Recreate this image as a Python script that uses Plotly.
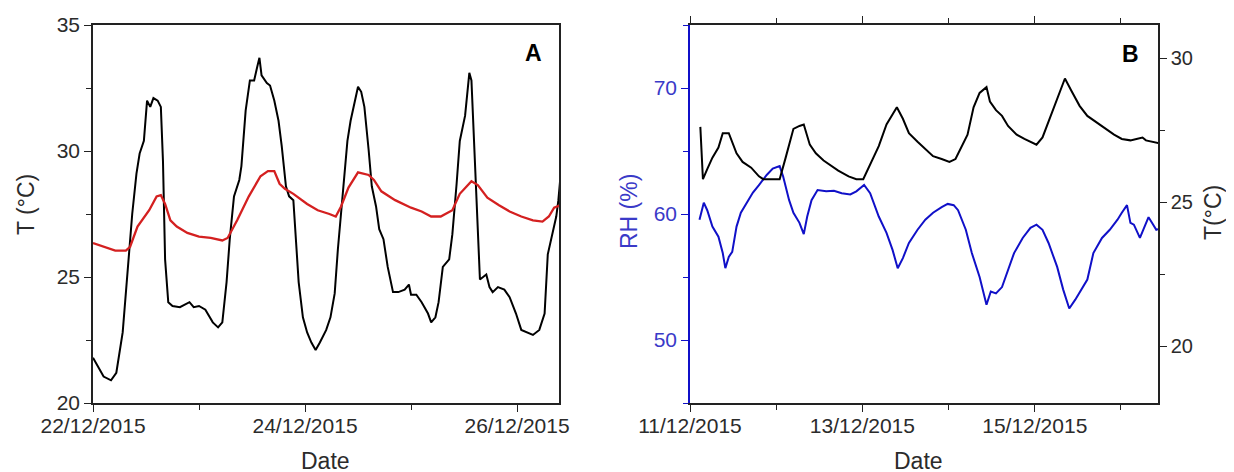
import pandas as pd
import plotly.graph_objects as go

# ---------------- data (days since start date) ----------------
a_start = "2015-12-22"
a_black_days = [0, 0.1, 0.17, 0.22, 0.28, 0.31, 0.37, 0.41, 0.44, 0.48, 0.51, 0.54, 0.57, 0.61, 0.64, 0.66,
                0.68, 0.71, 0.75, 0.82, 0.91, 0.95, 1.0, 1.06, 1.13, 1.18, 1.22, 1.26, 1.29, 1.33, 1.38, 1.40,
                1.44, 1.48, 1.52, 1.55, 1.57, 1.59, 1.64, 1.67, 1.71, 1.75, 1.78, 1.82, 1.85, 1.89, 1.91, 1.94,
                1.98, 2.02, 2.06, 2.10, 2.14, 2.20, 2.24, 2.28, 2.31, 2.36, 2.40, 2.43, 2.47, 2.50, 2.53, 2.56,
                2.60, 2.63, 2.67, 2.70, 2.74, 2.78, 2.83, 2.88, 2.94, 2.98, 3.00, 3.05, 3.10, 3.16, 3.19, 3.23,
                3.26, 3.30, 3.36, 3.39, 3.43, 3.46, 3.51, 3.53, 3.55, 3.57, 3.60, 3.63, 3.65, 3.68, 3.71, 3.74,
                3.77, 3.82, 3.88, 3.93, 3.99, 4.04, 4.10, 4.15, 4.21, 4.26, 4.29, 4.33, 4.37, 4.39, 4.41]
a_black_temp = [21.8, 21.05, 20.9, 21.2, 22.8, 24.4, 27.5, 29.1, 29.9, 30.4, 32.0, 31.75, 32.1, 32.0, 31.75, 29.6,
                25.7, 24.0, 23.85, 23.8, 24.0, 23.8, 23.85, 23.7, 23.2, 23.0, 23.2, 24.8, 26.5, 28.2, 28.85, 29.4,
                31.6, 32.8, 32.8, 33.35, 33.7, 33.0, 32.7, 32.6, 32.0, 31.2, 30.2, 28.6, 28.2, 28.05, 26.7, 24.8,
                23.4, 22.8, 22.4, 22.1, 22.4, 22.9, 23.4, 24.35, 26.1, 28.6, 30.4, 31.2, 32.0, 32.55, 32.35, 31.75,
                30.05, 28.6, 27.8, 26.9, 26.5, 25.4, 24.4, 24.4, 24.5, 24.7, 24.3, 24.3, 24.0, 23.55, 23.2, 23.4,
                24.0, 25.4, 25.7, 26.7, 28.7, 30.4, 31.4, 32.3, 33.1, 32.8, 29.6, 26.7, 24.9, 25.0, 25.1, 24.6,
                24.4, 24.6, 24.5, 24.2, 23.55, 22.9, 22.8, 22.7, 22.9, 23.55, 25.9, 26.7, 27.4, 28.05, 29.0]
a_red_days = [0, 0.1, 0.21, 0.31, 0.35, 0.42, 0.53, 0.60, 0.64, 0.68, 0.73, 0.79, 0.89, 1.0, 1.11, 1.22, 1.27,
              1.36, 1.47, 1.58, 1.65, 1.71, 1.76, 1.81, 1.89, 2.02, 2.12, 2.23, 2.29, 2.34, 2.41, 2.50, 2.60,
              2.65, 2.72, 2.85, 3.00, 3.10, 3.19, 3.28, 3.39, 3.46, 3.57, 3.63, 3.72, 3.83, 3.93, 4.04, 4.15,
              4.24, 4.30, 4.35, 4.41]
a_red_temp = [26.35, 26.2, 26.05, 26.05, 26.2, 27.0, 27.65, 28.2, 28.25, 27.9, 27.25, 27.0, 26.75, 26.6, 26.55,
              26.45, 26.55, 27.25, 28.2, 29.0, 29.2, 29.2, 28.7, 28.5, 28.3, 27.9, 27.65, 27.5, 27.4, 27.8, 28.55,
              29.15, 29.05, 28.85, 28.4, 28.05, 27.75, 27.6, 27.4, 27.4, 27.65, 28.3, 28.8, 28.65, 28.15, 27.85,
              27.6, 27.4, 27.25, 27.2, 27.4, 27.75, 27.85]

b_start = "2015-12-11"
b_temp_days = [0.12, 0.15, 0.20, 0.26, 0.33, 0.38, 0.45, 0.49, 0.54, 0.61, 0.71, 0.80, 0.85, 0.94, 1.04, 1.11,
               1.20, 1.27, 1.32, 1.39, 1.46, 1.55, 1.62, 1.72, 1.84, 1.93, 2.01, 2.09, 2.19, 2.28, 2.40, 2.47,
               2.54, 2.64, 2.73, 2.82, 2.92, 3.01, 3.08, 3.15, 3.22, 3.29, 3.36, 3.44, 3.48, 3.55, 3.62, 3.69,
               3.79, 3.88, 3.98, 4.02, 4.09, 4.16, 4.26, 4.35, 4.42, 4.52, 4.61, 4.73, 4.82, 4.92, 5.01, 5.11,
               5.18, 5.25, 5.29, 5.36, 5.44]
b_temp = [27.62, 25.8, 26.15, 26.55, 26.9, 27.4, 27.4, 27.1, 26.7, 26.4, 26.2, 25.9, 25.8, 25.8, 25.8, 26.55,
          27.55, 27.65, 27.7, 27.0, 26.7, 26.45, 26.3, 26.1, 25.9, 25.8, 25.8, 26.3, 26.95, 27.7, 28.3, 27.9,
          27.4, 27.1, 26.85, 26.6, 26.5, 26.4, 26.5, 26.9, 27.35, 28.3, 28.8, 29.0, 28.5, 28.2, 28.0, 27.65,
          27.35, 27.2, 27.05, 27.0, 27.25, 27.8, 28.65, 29.3, 28.9, 28.35, 28.0, 27.75, 27.55, 27.35, 27.2, 27.15,
          27.2, 27.25, 27.15, 27.1, 27.05]
b_rh_days = [0.11, 0.16, 0.20, 0.26, 0.33, 0.38, 0.41, 0.45, 0.49, 0.54, 0.59, 0.66, 0.73, 0.80, 0.89, 0.96,
             1.04, 1.08, 1.15, 1.20, 1.27, 1.32, 1.36, 1.41, 1.48, 1.58, 1.67, 1.76, 1.86, 1.93, 2.02, 2.09,
             2.19, 2.28, 2.35, 2.41, 2.47, 2.54, 2.64, 2.73, 2.82, 2.92, 2.99, 3.06, 3.11, 3.20, 3.27, 3.36,
             3.44, 3.49, 3.55, 3.62, 3.69, 3.76, 3.86, 3.95, 4.02, 4.09, 4.16, 4.26, 4.33, 4.40, 4.47, 4.54,
             4.61, 4.68, 4.78, 4.87, 4.96, 5.01, 5.07, 5.11, 5.15, 5.22, 5.27, 5.32, 5.36, 5.41, 5.44]
b_rh = [59.55, 60.9, 60.3, 59.0, 58.2, 56.9, 55.7, 56.6, 57.0, 59.0, 60.1, 60.9, 61.7, 62.3, 63.1, 63.6,
        63.8, 63.0, 61.1, 60.1, 59.3, 58.4, 59.8, 61.1, 61.9, 61.8, 61.85, 61.65, 61.55, 61.8, 62.3, 61.65,
        59.8, 58.5, 57.15, 55.7, 56.5, 57.7, 58.75, 59.55, 60.1, 60.55, 60.8, 60.7, 60.3, 58.75, 56.9, 55.0,
        52.8, 53.85, 53.7, 54.2, 55.55, 56.9, 58.1, 58.9, 59.15, 58.75, 57.7, 55.8, 54.0, 52.5, 53.2, 54.0,
        54.8, 56.9, 58.1, 58.75, 59.55, 60.1, 60.7, 59.3, 59.15, 58.1, 59.0, 59.75, 59.3, 58.75, 58.8]


def to_dates(start, days):
    return pd.Timestamp(start) + pd.to_timedelta(days, unit="D")


W, H = 1234, 472
OFF = 8  # page body offset of the rendered figure


def px(x):
    return (x - OFF) / W


def py(y):
    return 1 - (y - OFF) / H


FONT = "Liberation Sans, Arial, sans-serif"
TICKC = "#2b2b2b"
BLUE = "#1010c8"
DAY = 86400000

fig = go.Figure()
fig.add_trace(go.Scatter(x=to_dates(a_start, a_black_days), y=a_black_temp, mode="lines",
                         line=dict(color="black", width=2), xaxis="x", yaxis="y", showlegend=False))
fig.add_trace(go.Scatter(x=to_dates(a_start, a_red_days), y=a_red_temp, mode="lines",
                         line=dict(color="#d42020", width=2.3), xaxis="x", yaxis="y", showlegend=False))
fig.add_trace(go.Scatter(x=to_dates(b_start, b_rh_days), y=b_rh, mode="lines",
                         line=dict(color=BLUE, width=2), xaxis="x2", yaxis="y3", showlegend=False))
fig.add_trace(go.Scatter(x=to_dates(b_start, b_temp_days), y=b_temp, mode="lines",
                         line=dict(color="black", width=2), xaxis="x2", yaxis="y4", showlegend=False))

ydom = [py(403), py(25)]
tickfont = dict(family=FONT, size=21, color=TICKC)
common_x = dict(type="date", tickformat="%d/%m/%Y", dtick=2 * DAY, ticks="outside", ticklen=7,
                tickwidth=1.3, tickcolor="#222", showgrid=False, zeroline=False, showline=True,
                linecolor="#222", linewidth=1.5, tickfont=tickfont, automargin=False,
                ticklabelstandoff=-4,
                minor=dict(ticks="outside", ticklen=5, dtick=DAY, tickcolor="#222", tickwidth=1.3, showgrid=False))

def label(text, x, y, size=23, color=TICKC, angle=0):
    return dict(text=text, x=px(x), y=py(y), xref="paper", yref="paper", showarrow=False,
                xanchor="center", yanchor="middle", textangle=angle,
                font=dict(family=FONT, size=size, color=color))


fig.update_layout(
    width=W, height=H, margin=dict(l=0, r=0, t=0, b=0, autoexpand=False),
    paper_bgcolor="white", plot_bgcolor="white",
    xaxis=dict(domain=[px(93), px(559)], anchor="y", mirror=True,
               range=["2015-12-22 00:00", "2015-12-26 09:30"], tick0="2015-12-22", **common_x),
    yaxis=dict(domain=ydom, anchor="x", range=[20, 35], dtick=5, ticks="outside", ticklen=7, tickwidth=1.3,
               tickcolor="#222", showgrid=False, zeroline=False, showline=True, linecolor="#222", linewidth=1.5,
               mirror=True, tickfont=tickfont, automargin=False,
               minor=dict(ticks="outside", ticklen=5, dtick=2.5, tickcolor="#222", tickwidth=1.3, showgrid=False)),
    xaxis2=dict(domain=[px(690), px(1158)], anchor="y3", mirror="ticks",
                range=["2015-12-11 00:00", "2015-12-16 10:19"], tick0="2015-12-11", **common_x),
    yaxis3=dict(domain=ydom, anchor="x2", range=[45, 75], dtick=10, ticks="outside", ticklen=7, tickwidth=1.3,
                tickcolor=BLUE, showgrid=False, zeroline=False, showline=True, linecolor=BLUE, linewidth=1.5,
                tickfont=dict(family=FONT, size=21, color="#3a3ac8"), automargin=False,
                minor=dict(ticks="outside", ticklen=5, dtick=5, tickcolor=BLUE, tickwidth=1.3, showgrid=False)),
    yaxis4=dict(overlaying="y3", side="right", anchor="x2", range=[18.02, 31.16], dtick=5, ticks="outside",
                ticklen=7, tickwidth=1.3, tickcolor="#222", showgrid=False, zeroline=False, showline=True,
                linecolor="#222", linewidth=1.5, tickfont=dict(family=FONT, size=20, color=TICKC),
                automargin=False,
                minor=dict(ticks="outside", ticklen=5, dtick=2.5, tickcolor="#222", tickwidth=1.3, showgrid=False)),
    annotations=[
        label("<b>A</b>", 533, 53, color="black"),
        label("<b>B</b>", 1130, 54, color="black"),
        label("Date", 326, 461),
        label("Date", 918, 461),
        label("T (°C)", 26, 205, angle=-90),
        label("RH (%)", 629, 212, color="#3a3ac8", angle=-90),
        label("T(°C)", 1213, 213, angle=-90),
    ],
)

fig.write_html("out.html")
